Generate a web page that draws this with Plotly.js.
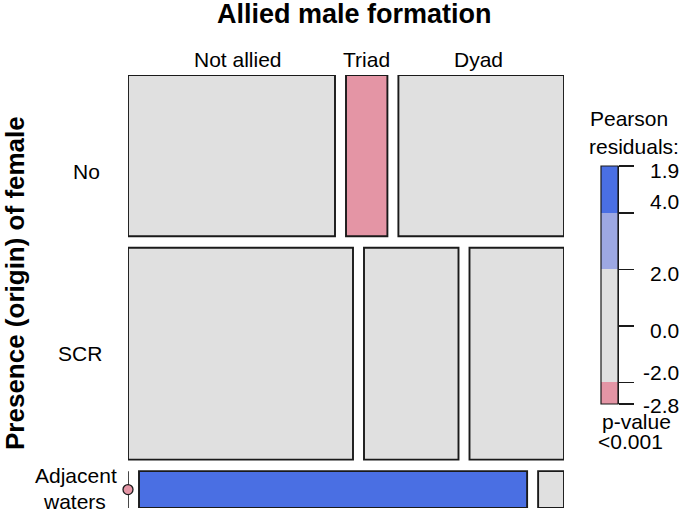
<!DOCTYPE html>
<html>
<head>
<meta charset="utf-8">
<script src="https://cdn.plot.ly/plotly-3.0.1.min.js"></script>
<style>html,body{margin:0;padding:0;background:#fff;}#chart{width:685px;height:512px;}</style>
</head>
<body>
<div id="chart"></div>
<script>
// ---- data ----
const colLabels = ["Not allied", "Triad", "Dyad"];
const rowLabels = ["No", "SCR", "Adjacent", "waters"];
const countsNo = [35, 7, 28];
const countsSCR = [50, 21, 21];
const countsAdj = [0, 15, 1];
const legendMidTicks = [-2.0, 0.0, 2.0, 4.0];
const legendTickText = ["-2.8", "-2.0", "0.0", "2.0", "4.0", "1.9"];

// ---- derived ----
const table = [countsNo, countsSCR, countsAdj];
const rowTot = table.map(r => r.reduce((a, b) => a + b, 0));
const colTot = colLabels.map((_, j) => table.reduce((a, r) => a + r[j], 0));
const N = rowTot.reduce((a, b) => a + b, 0);
const resid = table.map((r, i) => r.map((o, j) => {
  const e = rowTot[i] * colTot[j] / N;
  return (o - e) / Math.sqrt(e);
}));
const allRes = resid.flat();
const resMin = Math.min(...allRes), resMax = Math.max(...allRes);

const C_DARKBLUE = "#4a6fe3", C_LIGHTBLUE = "#9da8e2", C_GRAY = "#e0e0e0",
      C_PINK = "#e495a5";
function shade(r) {
  if (r > 4) return C_DARKBLUE;
  if (r > 2) return C_LIGHTBLUE;
  if (r < -4) return "#d33f6a";
  if (r < -2) return C_PINK;
  return C_GRAY;
}

const gx = 11 / 436, gy = 11.5 / 433;
const nR = table.length, nC = colLabels.length;
const availY = 1 - gy * (nR - 1);
const availX = 1 - gx * (nC - 1);

const barX = [], barBase = [], barY = [], barW = [], barC = [];
const zeroTraces = [];
const rowMid = [], rowTop = [], rowBot = [];
let y0 = 0;
const topCenters = [];
for (let i = 0; i < nR; i++) {
  const h = rowTot[i] / N * availY;
  rowMid.push(y0 + h / 2); rowTop.push(y0); rowBot.push(y0 + h);
  let x0 = 0;
  for (let j = 0; j < nC; j++) {
    const w = table[i][j] / rowTot[i] * availX;
    if (i === 0) topCenters.push(x0 + w / 2);
    if (table[i][j] === 0) {
      zeroTraces.push({
        type: "scatter", mode: "lines", x: [x0, x0], y: [y0, y0 + h], cliponaxis: false,
        line: {color: "#1a1a1a", width: 1.6}, hoverinfo: "skip", showlegend: false,
        xaxis: "x", yaxis: "y"
      });
      zeroTraces.push({
        type: "scatter", mode: "markers", x: [x0], y: [y0 + h / 2], cliponaxis: false,
        marker: {color: shade(resid[i][j]), size: 10, line: {color: "#1a1a1a", width: 1.3}},
        hoverinfo: "skip", showlegend: false, xaxis: "x", yaxis: "y"
      });
    } else {
      barX.push(w); barBase.push(x0); barY.push(y0 + h / 2); barW.push(h);
      barC.push(shade(resid[i][j]));
    }
    x0 += w + gx;
  }
  y0 += h + gy;
}

const traces = [{
  type: "bar", orientation: "h", x: barX, base: barBase, y: barY, width: barW,
  marker: {color: barC, line: {color: "#1a1a1a", width: 1.9}},
  hoverinfo: "skip", showlegend: false, xaxis: "x", yaxis: "y", cliponaxis: false
}].concat(zeroTraces);

// legend colour bar
const segLo = [resMin, -2, 2, 4];
const segHi = [-2, 2, 4, resMax];
const segCol = [C_PINK, C_GRAY, C_LIGHTBLUE, C_DARKBLUE];
traces.push({
  type: "bar", x: segLo.map(() => 0), base: segLo, y: segHi.map((h, k) => h - segLo[k]),
  width: segLo.map(() => 1), marker: {color: segCol, line: {width: 0}},
  hoverinfo: "skip", showlegend: false, xaxis: "x2", yaxis: "y2"
});

const F = "Liberation Sans, Arial, Helvetica, sans-serif";
const legTickVals = [resMin].concat(legendMidTicks, [resMax]);
const legShift = [-1, 10, -5, -4, 11, -4];
const FS = 21;

const annotations = [];
colLabels.forEach((c, j) => annotations.push({
  text: c, x: topCenters[j], xref: "x", y: 1 - 59 / 512, yref: "paper",
  xshift: [6, 0, -3][j], showarrow: false, font: {family: F, size: FS, color: "#000"},
  xanchor: "center", yanchor: "middle"
}));
// row labels: No, SCR, Adjacent waters (two lines)
const rowLabX = [86, 80, 76, 74];
const rowLabRow = [0, 1, 2, 2];
const rowLabShift = [-16, 0, 14, -12];
rowLabels.forEach((r, i) => annotations.push({
  text: r, x: rowLabX[i] / 685, xref: "paper", y: rowMid[rowLabRow[i]], yref: "y",
  yshift: rowLabShift[i], showarrow: false, align: "center",
  font: {family: F, size: FS, color: "#000"}, xanchor: "center", yanchor: "middle"
}));
legTickVals.forEach((v, k) => annotations.push({
  text: legendTickText[k], x: 681 / 685, xref: "paper", y: v, yref: "y2",
  yshift: legShift[k], showarrow: false, font: {family: F, size: FS, color: "#000"},
  xanchor: "right", yanchor: "middle"
}));
annotations.push(
  {text: "Allied male formation", x: 354 / 685, xref: "paper", y: 1 - 14 / 512, yref: "paper",
   showarrow: false, font: {family: F, size: 27, color: "#000", weight: "bold"}, xanchor: "center", yanchor: "middle"},
  {text: "Presence (origin) of female", x: 15 / 685, xref: "paper", y: 1 - 283 / 512, yref: "paper",
   textangle: -90, showarrow: false, font: {family: F, size: 26, color: "#000", weight: "bold"},
   xanchor: "center", yanchor: "middle"},
  {text: "Pearson", x: 629 / 685, xref: "paper", y: 1 - 118 / 512, yref: "paper",
   showarrow: false, font: {family: F, size: FS, color: "#000"}, xanchor: "center", yanchor: "middle"},
  {text: "residuals:", x: 634 / 685, xref: "paper", y: 1 - 146 / 512, yref: "paper",
   showarrow: false, font: {family: F, size: FS, color: "#000"}, xanchor: "center", yanchor: "middle"},
  {text: "p-value", x: 636 / 685, xref: "paper", y: 1 - 421 / 512, yref: "paper",
   showarrow: false, font: {family: F, size: FS, color: "#000"}, xanchor: "center", yanchor: "middle"},
  {text: "<0.001", x: 630 / 685, xref: "paper", y: 1 - 441 / 512, yref: "paper",
   showarrow: false, font: {family: F, size: FS, color: "#000"}, xanchor: "center", yanchor: "middle"}
);

const hidden = {visible: false, showgrid: false, zeroline: false, fixedrange: true};
const layout = {
  width: 685, height: 512, margin: {l: 0, r: 0, t: 0, b: 0},
  paper_bgcolor: "#fff", plot_bgcolor: "rgba(0,0,0,0)",
  barmode: "overlay", bargap: 0, showlegend: false,
  xaxis: Object.assign({}, hidden, {domain: [128 / 685, 564 / 685], range: [0, 1]}),
  yaxis: Object.assign({}, hidden, {domain: [4 / 512, 437 / 512], range: [1, 0]}),
  xaxis2: Object.assign({}, hidden, {domain: [601 / 685, 618 / 685], range: [-0.5, 0.5], anchor: "y2"}),
  yaxis2: {domain: [(512 - 404) / 512, (512 - 166) / 512], range: [resMin, resMax], anchor: "x2",
    side: "right", showgrid: false, zeroline: false, showline: true, linecolor: "#1a1a1a", linewidth: 1.2,
    ticks: "outside", ticklen: 15, tickwidth: 1.2, tickcolor: "#1a1a1a", tickmode: "array",
    tickvals: legTickVals, showticklabels: false, fixedrange: true},
  shapes: [{type: "rect", xref: "x2 domain", yref: "y2 domain", x0: 0, x1: 1, y0: 0, y1: 1,
    line: {color: "#1a1a1a", width: 1.2}}],
  annotations: annotations
};
Plotly.newPlot("chart", traces, layout, {staticPlot: true, displayModeBar: false});
</script>
</body>
</html>
